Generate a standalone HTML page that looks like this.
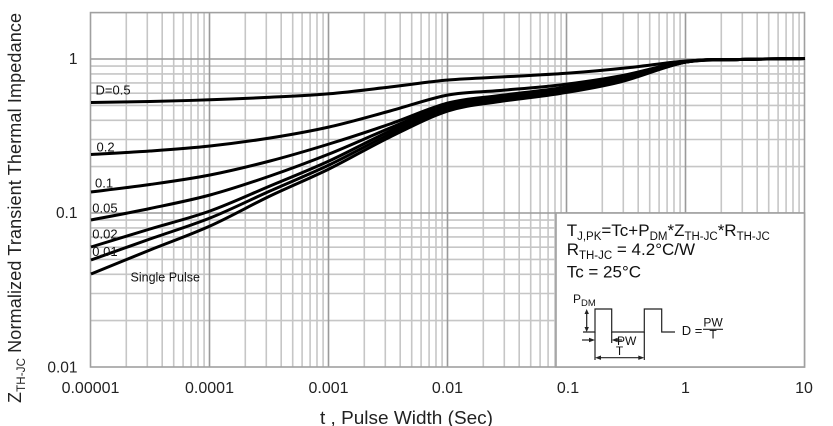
<!DOCTYPE html>
<html><head><meta charset="utf-8"><style>
html,body{margin:0;padding:0;background:#fff;}
svg{display:block;font-family:"Liberation Sans",Arial,sans-serif;}
</style></head><body>
<svg id="chart" width="833" height="426" viewBox="0 0 833 426" xmlns="http://www.w3.org/2000/svg">
<rect x="0" y="0" width="833" height="426" fill="#fff"/>
<g stroke="#c6c6c6" stroke-width="1.6" fill="none">
<path d="M126.3 12.6V367M147.3 12.6V367M162.2 12.6V367M173.7 12.6V367M183.1 12.6V367M191.1 12.6V367M198 12.6V367M204.1 12.6V367
M245.3 12.6V367M266.3 12.6V367M281.2 12.6V367M292.7 12.6V367M302.1 12.6V367M310.1 12.6V367M317 12.6V367M323.1 12.6V367
M364.3 12.6V367M385.3 12.6V367M400.2 12.6V367M411.7 12.6V367M421.1 12.6V367M429.1 12.6V367M436 12.6V367M442.1 12.6V367
M483.3 12.6V367M504.3 12.6V367M519.2 12.6V367M530.7 12.6V367M540.1 12.6V367M548.1 12.6V367M555 12.6V367M561.1 12.6V367
M602.3 12.6V367M623.3 12.6V367M638.2 12.6V367M649.7 12.6V367M659.1 12.6V367M667.1 12.6V367M674 12.6V367M680.1 12.6V367
M721.3 12.6V367M742.3 12.6V367M757.2 12.6V367M768.7 12.6V367M778.1 12.6V367M786.1 12.6V367M793 12.6V367M799.1 12.6V367"/>
<path d="M90.5 320.6H804.5M90.5 293.5H804.5M90.5 274.3H804.5M90.5 259.4H804.5M90.5 247.2H804.5M90.5 236.9H804.5M90.5 227.9H804.5M90.5 220.1H804.5
M90.5 166.6H804.5M90.5 139.5H804.5M90.5 120.3H804.5M90.5 105.4H804.5M90.5 93.2H804.5M90.5 82.9H804.5M90.5 73.9H804.5M90.5 66.1H804.5"/>
</g>
<g stroke="#9a9a9a" stroke-width="1.6" fill="none">
<path d="M209.5 12.6V367M328.5 12.6V367M447.5 12.6V367M566.5 12.6V367M685.5 12.6V367M90.5 59H804.5M90.5 213H804.5"/>
</g>
<rect x="90.5" y="12.6" width="714" height="354.4" fill="none" stroke="#a0a0a0" stroke-width="1.6"/>

<g id="curves" fill="none" stroke="#000" stroke-width="3" stroke-linejoin="round" stroke-linecap="butt">
<polyline class="c" points="91,102.5 150,101.5 210,99.8 270,97.3 329,93.8 390,87 448,80 510,76.5 570,73 630,67.5 686,61 740,59.5 805,58.5"/>
<polyline class="c" points="91,154.5 150,151 210,146 270,138 329,127 390,111 448,95 500,90.5 560,85 620,76 686,61.5 740,59.5 805,58.5"/>
<polyline class="c" points="91,192 150,184.5 210,175 270,161 329,144 390,124 448,103 500,95.5 560,88 620,77 686,62 740,59.5 805,58.5"/>
<polyline class="c" points="91,220 150,208.5 210,195 270,176 329,154 390,128 448,105 500,97.5 560,89 620,78.5 686,62 740,59.5 805,58.5"/>
<polyline class="c" points="91,247 150,229 210,211 270,186 329,161 390,131 448,106.5 500,99 560,90.5 620,79.5 686,62 740,59.5 805,58.5"/>
<polyline class="c" points="91,260 150,239 210,218 270,191 329,165 390,134 448,108.5 500,100 560,92 620,81 686,62 740,59.5 805,58.5"/>
<polyline class="c" points="91,274 150,250 210,226 270,196 329,169 390,137 448,111 500,101.5 560,93.5 620,82 686,62 740,59.5 805,58.5"/>
</g>

<g fill="#111" font-size="13">
<text x="95.5" y="94.5">D=0.5</text>
<text x="96.5" y="151.7">0.2</text>
<text x="95" y="187.7">0.1</text>
<text x="92.3" y="212.7">0.05</text>
<text x="92.3" y="238.3">0.02</text>
<text x="92.3" y="256">0.01</text>
<text x="130.5" y="281.7" font-size="12.5">Single Pulse</text>
</g>

<rect x="556" y="213" width="248.5" height="154" fill="#fff" stroke="#a0a0a0" stroke-width="1.6"/>
<g fill="#111">
<text x="566.7" y="236" font-size="17">T<tspan font-size="11.5" dy="4">J,PK</tspan><tspan dy="-4">=Tc+P</tspan><tspan font-size="11.5" dy="4">DM</tspan><tspan dy="-4">*Z</tspan><tspan font-size="11.5" dy="4">TH-JC</tspan><tspan dy="-4">*R</tspan><tspan font-size="11.5" dy="4">TH-JC</tspan></text>
<text x="566.7" y="255" font-size="17">R<tspan font-size="11.5" dy="4">TH-JC</tspan><tspan dy="-4"> = 4.2°C/W</tspan></text>
<text x="566.7" y="277.3" font-size="17">Tc = 25°C</text>
<text x="573" y="303" font-size="12">P<tspan font-size="9.5" dy="3">DM</tspan></text>
<text x="681.7" y="335" font-size="13">D =</text>
<text x="713" y="326.5" font-size="12" text-anchor="middle">PW</text>
<text x="713" y="338.5" font-size="12" text-anchor="middle">T</text>
<text x="617" y="345" font-size="12">PW</text>
<text x="619.5" y="355" font-size="12" text-anchor="middle">T</text>
</g>
<g stroke="#222" stroke-width="1.2" fill="none">
<polyline points="583,332 595,332 595,309 611.7,309 611.7,332 644.3,332 644.3,309 661.7,309 661.7,332 675,332"/>
<line x1="703" y1="329.3" x2="723" y2="329.3"/>
<line x1="586.7" y1="312" x2="586.7" y2="329"/>
<line x1="595" y1="332" x2="595" y2="360"/>
<line x1="611.7" y1="332" x2="611.7" y2="343"/>
<line x1="644.3" y1="332" x2="644.3" y2="360"/>
<line x1="582" y1="340" x2="592" y2="340"/>
<line x1="615" y1="340" x2="622" y2="340"/>
<line x1="598" y1="357.7" x2="641" y2="357.7"/>
</g>
<g fill="#222">
<polygon points="586.7,309 584.5,314 588.9,314"/>
<polygon points="586.7,332 584.5,327 588.9,327"/>
<polygon points="595,340 589,337.8 589,342.2"/>
<polygon points="611.7,340 617.7,337.8 617.7,342.2"/>
<polygon points="595,357.7 601,355.5 601,359.9"/>
<polygon points="644.3,357.7 638.3,355.5 638.3,359.9"/>
</g>

<g fill="#222" font-size="15.5" text-anchor="end">
<text x="77.5" y="64">1</text>
<text x="77.5" y="218">0.1</text>
<text x="77.5" y="372.5">0.01</text>
</g>
<g fill="#222" font-size="16" text-anchor="middle">
<text x="90.5" y="393">0.00001</text>
<text x="209.5" y="393">0.0001</text>
<text x="328.5" y="393">0.001</text>
<text x="447.5" y="393">0.01</text>
<text x="568" y="393">0.1</text>
<text x="685.5" y="393">1</text>
<text x="804" y="393">10</text>
</g>

<text x="320" y="424" font-size="18" fill="#222" textLength="173" lengthAdjust="spacingAndGlyphs">t , Pulse Width (Sec)</text>
<g transform="translate(21,0) rotate(-90)" fill="#222">
<text x="-403" y="0" font-size="18" textLength="390" lengthAdjust="spacing">Z<tspan font-size="11.5" dy="4">TH-JC</tspan><tspan dy="-4"> Normalized Transient Thermal Impedance</tspan></text>
</g>
</svg>
<script>
(function(){
  var ns="http://www.w3.org/2000/svg";
  var pls=document.querySelectorAll("#curves polyline.c");
  for(var k=0;k<pls.length;k++){
    var pl=pls[k];
    var raw=pl.getAttribute("points").trim().split(/\s+/);
    var p=raw.map(function(s){var a=s.split(",");return [parseFloat(a[0]),parseFloat(a[1])];});
    var d="M"+p[0][0]+" "+p[0][1];
    for(var i=0;i<p.length-1;i++){
      var p0=p[i>0?i-1:i],p1=p[i],p2=p[i+1],p3=p[i+2<p.length?i+2:i+1];
      var c1x=p1[0]+(p2[0]-p0[0])/6,c1y=p1[1]+(p2[1]-p0[1])/6;
      var c2x=p2[0]-(p3[0]-p1[0])/6,c2y=p2[1]-(p3[1]-p1[1])/6;
      d+=" C"+c1x.toFixed(2)+" "+c1y.toFixed(2)+" "+c2x.toFixed(2)+" "+c2y.toFixed(2)+" "+p2[0]+" "+p2[1];
    }
    var path=document.createElementNS(ns,"path");
    path.setAttribute("d",d);
    pl.parentNode.replaceChild(path,pl);
  }
})();
</script>
</body></html>
